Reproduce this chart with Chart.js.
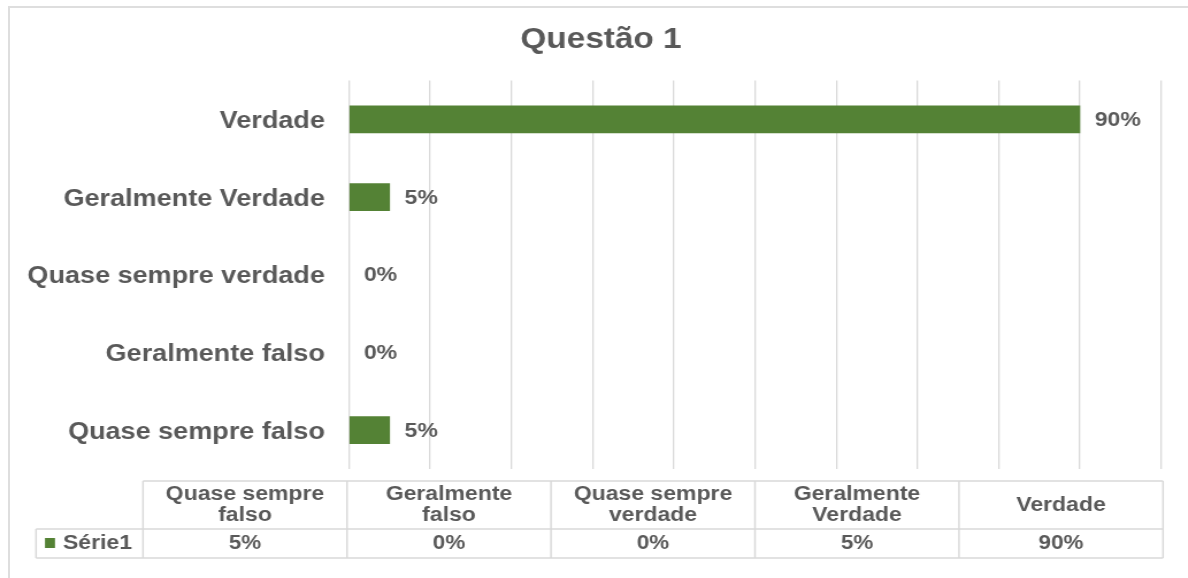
<!DOCTYPE html>
<html><head><meta charset="utf-8">
<script src="https://cdn.jsdelivr.net/npm/chart.js@4.4.1/dist/chart.umd.min.js"></script>
<style>
html,body{margin:0;padding:0;width:1188px;height:578px;overflow:hidden;background:#fff;}
#frame{position:absolute;left:8px;top:6px;width:1200px;height:600px;border:2px solid #dedede;box-sizing:border-box;}
#wrap{position:absolute;left:0;top:0;width:1033px;height:578px;transform:scaleX(1.15);transform-origin:0 0;}
</style></head><body>
<div id="frame"></div>
<div id="wrap"><canvas id="c"></canvas></div>
<script>
const chartTitle = 'Questão 1';
const categories = ['Quase sempre falso', 'Geralmente falso', 'Quase sempre verdade', 'Geralmente Verdade', 'Verdade'];
const headerLines = [['Quase sempre', 'falso'], ['Geralmente', 'falso'], ['Quase sempre', 'verdade'], ['Geralmente', 'Verdade'], ['Verdade']];
const seriesName = 'Série1';
const values = [5, 0, 0, 5, 90];
const axisMin = 0, axisMax = 100, axisStep = 10;

const STRETCH = 1.15;
const FONT = '"Liberation Sans", Arial, sans-serif';
const TEXT = '#595959';
const BAR = '#548235';
const GRID = '#d9d9d9';
const X = v => v / STRETCH;

const titlePlugin = {
  id: 'titleText',
  afterDraw(chart) {
    const ctx = chart.ctx;
    ctx.save();
    ctx.fillStyle = TEXT;
    ctx.font = 'bold 29px ' + FONT;
    ctx.textAlign = 'center';
    ctx.textBaseline = 'alphabetic';
    ctx.fillText(chartTitle, X(601), 48);
    ctx.restore();
  }
};

const valueLabels = {
  id: 'valueLabels',
  afterDatasetsDraw(chart) {
    const ctx = chart.ctx;
    const meta = chart.getDatasetMeta(0);
    ctx.save();
    ctx.fillStyle = TEXT;
    ctx.font = 'bold 20px ' + FONT;
    ctx.textAlign = 'left';
    ctx.textBaseline = 'middle';
    meta.data.forEach((el, i) => {
      ctx.fillText(values[i] + '%', el.x + 13, el.y + 1);
    });
    ctx.restore();
  }
};

const dataTable = {
  id: 'dataTable',
  afterDraw(chart) {
    const ctx = chart.ctx;
    const edges = [143, 347, 551, 755, 959, 1163].map(X);
    const labelLeft = X(36);
    const yTop = 481, yMid = 529, yBot = 558;
    ctx.save();
    ctx.strokeStyle = GRID;
    ctx.lineWidth = 1.5;
    ctx.beginPath();
    ctx.moveTo(edges[0], yTop); ctx.lineTo(edges[5], yTop);
    ctx.moveTo(labelLeft, yMid); ctx.lineTo(edges[5], yMid);
    ctx.moveTo(labelLeft, yBot); ctx.lineTo(edges[5], yBot);
    ctx.moveTo(labelLeft, yMid); ctx.lineTo(labelLeft, yBot);
    edges.forEach(x => { ctx.moveTo(x, yTop); ctx.lineTo(x, yBot); });
    ctx.stroke();

    ctx.fillStyle = TEXT;
    ctx.textAlign = 'center';
    ctx.textBaseline = 'middle';
    ctx.font = 'bold 20px ' + FONT;
    const lh = 21;
    headerLines.forEach((lines, i) => {
      const cx = (edges[i] + edges[i + 1]) / 2;
      const cy = (yTop + yMid) / 2;
      lines.forEach((t, j) => ctx.fillText(t, cx, cy + (j - (lines.length - 1) / 2) * lh));
    });
    ctx.font = 'bold 19.5px ' + FONT;
    values.forEach((v, i) => {
      const cx = (edges[i] + edges[i + 1]) / 2;
      ctx.fillText(v + '%', cx, (yMid + yBot) / 2);
    });
    ctx.fillStyle = BAR;
    ctx.fillRect(X(45), 538, X(55) - X(45), 10);
    ctx.fillStyle = TEXT;
    ctx.textAlign = 'left';
    ctx.font = 'bold 20px ' + FONT;
    ctx.fillText(seriesName, X(63), (yMid + yBot) / 2);
    ctx.restore();
  }
};

new Chart(document.getElementById('c'), {
  type: 'bar',
  data: {
    labels: categories,
    datasets: [{
      label: seriesName, data: values,
      backgroundColor: c => (c.raw === 0 ? 'rgba(0,0,0,0)' : BAR),
      barThickness: 27
    }]
  },
  options: {
    indexAxis: 'y',
    responsive: true,
    maintainAspectRatio: false,
    animation: false,
    layout: { padding: { left: 0, right: 23.4, top: 80.5, bottom: 109 } },
    plugins: {
      legend: { display: false },
      tooltip: { enabled: false },
      title: { display: false }
    },
    scales: {
      x: {
        min: axisMin, max: axisMax,
        ticks: { display: false, stepSize: axisStep },
        grid: { color: GRID, lineWidth: 1.3, drawTicks: false },
        border: { display: false }
      },
      y: {
        reverse: true,
        ticks: { color: TEXT, font: { size: 23.5, weight: 'bold', family: FONT }, padding: 21, labelOffset: 2 },
        grid: { display: false, drawTicks: false },
        border: { display: false },
        afterFit: s => { s.width = 303.5; }
      }
    }
  },
  plugins: [valueLabels, dataTable, titlePlugin]
});
</script>
</body></html>
